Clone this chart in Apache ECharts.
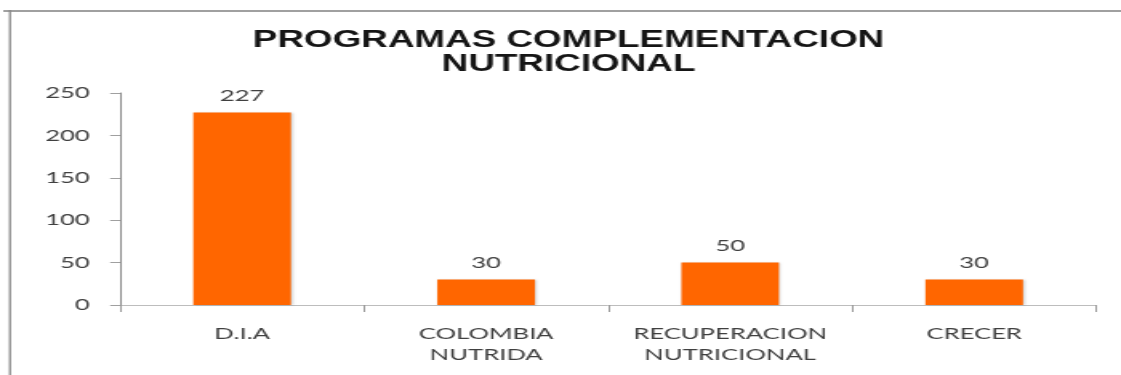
<!DOCTYPE html>
<html>
<head>
<meta charset="utf-8">
<script src="https://cdn.jsdelivr.net/npm/echarts@6/dist/echarts.min.js"></script>
<style>
  html, body { margin: 0; padding: 0; background: #fff; overflow: hidden; }
  #wrap { width: 1121px; height: 375px; overflow: hidden; position: relative; }
  #c { width: 700px; height: 375px; transform: scaleX(1.60143); transform-origin: 0 0; }
</style>
</head>
<body>
<div id="wrap"><div id="c"></div></div>
<script>
const titleText = 'PROGRAMAS COMPLEMENTACION\nNUTRICIONAL';
const categories = ['D.I.A', 'COLOMBIA\nNUTRIDA', 'RECUPERACION\nNUTRICIONAL', 'CRECER'];
const values = [227, 30, 50, 30];
const yMin = 0, yMax = 250, yStep = 50;

const chart = echarts.init(document.getElementById('c'), null, { renderer: 'canvas' });
chart.setOption({
  animation: false,
  backgroundColor: '#ffffff',
  title: {
    text: titleText,
    left: 350,
    top: 24,
    textAlign: 'center',
    textStyle: {
      fontFamily: 'Liberation Sans',
      fontWeight: 'bold',
      fontSize: 23,
      lineHeight: 24,
      color: '#151515'
    }
  },
  graphic: [
    { type: 'line', shape: { x1: 2, y1: 11, x2: 700, y2: 11 }, style: { stroke: '#a0a0a0', lineWidth: 2 } },
    { type: 'line', shape: { x1: 6.2, y1: 10, x2: 6.2, y2: 375 }, style: { stroke: '#8a8a8a', lineWidth: 1.3 } }
  ],
  grid: { left: 75, right: 15.5, top: 93, bottom: 70, containLabel: false },
  xAxis: {
    type: 'category',
    data: categories,
    axisLine: { show: true, lineStyle: { color: '#bdbdbd', width: 1 } },
    axisTick: { show: true, length: 7, lineStyle: { color: '#9a9a9a' } },
    axisLabel: {
      interval: 0,
      margin: 18,
      fontFamily: 'Lato',
      fontSize: 16,
      lineHeight: 21,
      color: '#404040'
    },
    splitLine: { show: false }
  },
  yAxis: {
    type: 'value',
    min: yMin,
    max: yMax,
    interval: yStep,
    axisLine: { show: true, lineStyle: { color: '#8c8c8c', width: 1 } },
    axisTick: { show: true, length: 6.2, lineStyle: { color: '#a0a0a0' } },
    axisLabel: {
      margin: 19,
      fontFamily: 'Lato',
      fontSize: 16,
      color: '#404040'
    },
    splitLine: { show: false }
  },
  series: [{
    type: 'bar',
    data: values,
    barWidth: '40%',
    itemStyle: {
      color: '#ff6600',
      shadowColor: 'rgba(0,0,0,0.18)',
      shadowBlur: 2,
      shadowOffsetX: 1,
      shadowOffsetY: 0
    },
    label: {
      show: true,
      position: 'top',
      distance: 9,
      fontFamily: 'Lato',
      fontSize: 16,
      color: '#404040'
    }
  }]
});
</script>
</body>
</html>
